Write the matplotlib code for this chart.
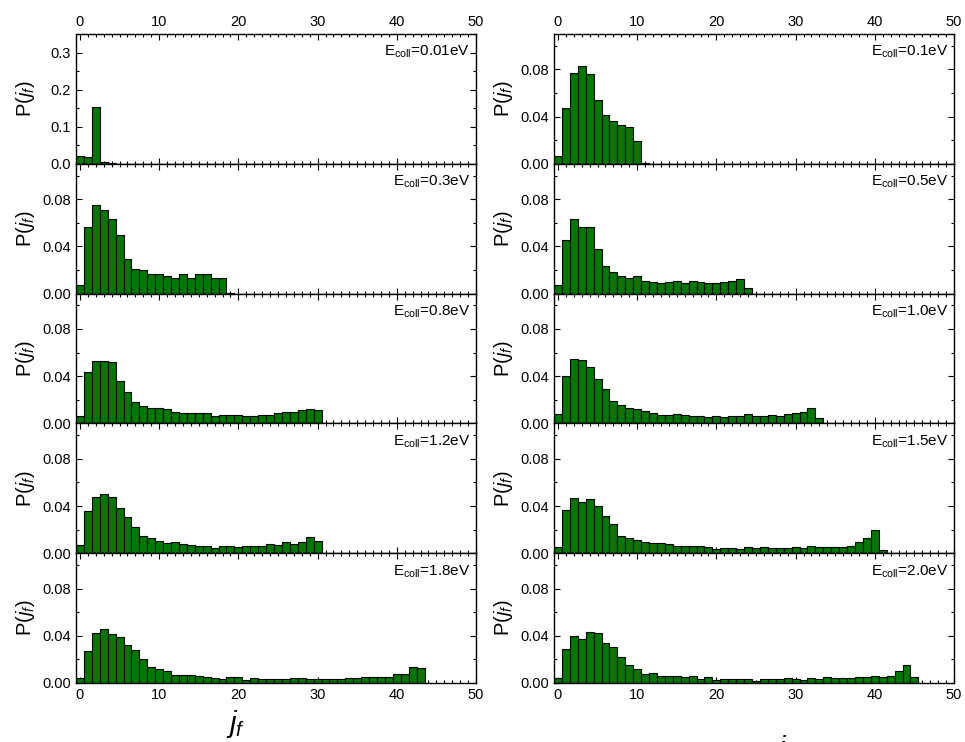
import numpy as np
import matplotlib
matplotlib.use('Agg')
import matplotlib.pyplot as plt
from matplotlib.ticker import MultipleLocator, FormatStrFormatter

plt.rcParams['font.family'] = ['Liberation Sans', 'DejaVu Sans']
plt.rcParams['mathtext.fontset'] = 'custom'
plt.rcParams['mathtext.rm'] = 'Liberation Sans'
plt.rcParams['mathtext.it'] = 'Liberation Sans:italic'

# P(j_f) per collision energy, j_f = 0, 1, 2, ...
p_001 = [0.021, 0.019, 0.152, 0.0055, 0.0012, 0.0008]
p_01 = [0.0065, 0.0477, 0.0766, 0.0831, 0.0763, 0.0542, 0.0411, 0.0363,
        0.0329, 0.0315, 0.0193, 0.0007]
p_03 = [0.0071, 0.0562, 0.0755, 0.0709, 0.0633, 0.0494, 0.0292, 0.0207,
        0.0196, 0.0170, 0.0162, 0.0153, 0.0128, 0.0162, 0.0136, 0.0162,
        0.0167, 0.0130, 0.0136, 0.0005]
p_05 = [0.0071, 0.0454, 0.0633, 0.0567, 0.0567, 0.0374, 0.0238, 0.0182,
        0.0148, 0.0136, 0.0145, 0.0111, 0.0102, 0.0094, 0.0102, 0.0111,
        0.0091, 0.0108, 0.0096, 0.0094, 0.0094, 0.0096, 0.0111, 0.0122,
        0.0048]
p_08 = [0.0065, 0.0434, 0.0531, 0.0531, 0.0519, 0.0357, 0.0270, 0.0179,
        0.0145, 0.0130, 0.0128, 0.0122, 0.0094, 0.0091, 0.0091, 0.0088,
        0.0088, 0.0062, 0.0074, 0.0074, 0.0071, 0.0065, 0.0060, 0.0071,
        0.0071, 0.0085, 0.0096, 0.0099, 0.0113, 0.0122, 0.0113]
p_10 = [0.0079, 0.0400, 0.0548, 0.0539, 0.0479, 0.0377, 0.0295, 0.0190,
        0.0153, 0.0128, 0.0122, 0.0102, 0.0085, 0.0074, 0.0074, 0.0077,
        0.0068, 0.0065, 0.0062, 0.0057, 0.0060, 0.0057, 0.0060, 0.0060,
        0.0077, 0.0065, 0.0065, 0.0068, 0.0060, 0.0079, 0.0085, 0.0096,
        0.0130, 0.0045]
p_12 = [0.0068, 0.0355, 0.0477, 0.0502, 0.0474, 0.0386, 0.0306, 0.0221,
        0.0148, 0.0130, 0.0105, 0.0088, 0.0094, 0.0077, 0.0068, 0.0062,
        0.0060, 0.0043, 0.0057, 0.0062, 0.0054, 0.0062, 0.0060, 0.0060,
        0.0077, 0.0071, 0.0092, 0.0077, 0.0097, 0.0136, 0.0105]
p_15 = [0.0051, 0.0363, 0.0468, 0.0434, 0.0460, 0.0403, 0.0318, 0.0247,
        0.0145, 0.0130, 0.0116, 0.0099, 0.0085, 0.0085, 0.0077, 0.0065,
        0.0065, 0.0057, 0.0057, 0.0054, 0.0037, 0.0045, 0.0045, 0.0037,
        0.0051, 0.0045, 0.0054, 0.0045, 0.0043, 0.0045, 0.0051, 0.0048,
        0.0060, 0.0054, 0.0051, 0.0054, 0.0051, 0.0062, 0.0091, 0.0130,
        0.0193, 0.0025]
p_18 = [0.0043, 0.0270, 0.0420, 0.0454, 0.0417, 0.0394, 0.0326, 0.0278,
        0.0207, 0.0136, 0.0116, 0.0099, 0.0071, 0.0065, 0.0065, 0.0062,
        0.0048, 0.0045, 0.0037, 0.0054, 0.0048, 0.0026, 0.0045, 0.0034,
        0.0034, 0.0037, 0.0037, 0.0043, 0.0045, 0.0031, 0.0037, 0.0037,
        0.0037, 0.0037, 0.0043, 0.0040, 0.0051, 0.0054, 0.0054, 0.0051,
        0.0074, 0.0074, 0.0139, 0.0125]
p_20 = [0.0045, 0.0287, 0.0400, 0.0377, 0.0431, 0.0425, 0.0335, 0.0306,
        0.0218, 0.0156, 0.0116, 0.0074, 0.0088, 0.0062, 0.0062, 0.0057,
        0.0054, 0.0060, 0.0037, 0.0048, 0.0028, 0.0037, 0.0037, 0.0037,
        0.0037, 0.0020, 0.0034, 0.0034, 0.0037, 0.0040, 0.0034, 0.0028,
        0.0045, 0.0034, 0.0051, 0.0040, 0.0040, 0.0040, 0.0048, 0.0048,
        0.0062, 0.0054, 0.0062, 0.0105, 0.0156, 0.0048]

left_labels = ['0.01', '0.3', '0.8', '1.2', '1.8']
right_labels = ['0.1', '0.5', '1.0', '1.5', '2.0']
left_data = [p_001, p_03, p_08, p_12, p_18]
right_data = [p_01, p_05, p_10, p_15, p_20]

W, H = 965, 742
fig = plt.figure(figsize=(W / 100, H / 100), dpi=100)

bar_color = '#007700'
top_px, bot_px = 34, 683
row_h = (bot_px - top_px) / 5

for col, (x0, labels, datas) in enumerate([(76, left_labels, left_data),
                                          (554, right_labels, right_data)]):
    for row in range(5):
        y_top = top_px + row * row_h
        ax = fig.add_axes([x0 / W, 1 - (y_top + row_h) / H, 400 / W, row_h / H])
        p = np.array(datas[row])
        j = np.arange(len(p))
        ax.bar(j, p, width=1.0, color=bar_color, edgecolor='black',
               linewidth=0.8, align='center', zorder=2)
        ax.set_xlim(-0.5, 50)
        ax.xaxis.set_major_locator(MultipleLocator(10))
        ax.xaxis.set_minor_locator(MultipleLocator(1))
        if col == 0 and row == 0:
            ax.set_ylim(0, 0.35)
            ax.yaxis.set_major_locator(MultipleLocator(0.1))
            ax.yaxis.set_minor_locator(MultipleLocator(0.05))
            ax.yaxis.set_major_formatter(FormatStrFormatter('%.1f'))
        else:
            ax.set_ylim(0, 0.11)
            ax.yaxis.set_major_locator(MultipleLocator(0.04))
            ax.yaxis.set_minor_locator(MultipleLocator(0.02))
            ax.yaxis.set_major_formatter(FormatStrFormatter('%.2f'))
        ax.tick_params(which='both', direction='in', top=True, right=True,
                       labelsize=10.5, width=0.8)
        ax.tick_params(which='major', length=4.5)
        ax.tick_params(which='minor', length=2.5)
        ax.tick_params(axis='x', labelbottom=(row == 4), labeltop=(row == 0))
        for s in ax.spines.values():
            s.set_linewidth(1.0)
        ax.set_ylabel('P($j_f$)', fontsize=14.5, labelpad=0)
        ax.yaxis.set_label_coords(-0.098, 0.5)
        ax.text(0.985, 0.86, r'E$_{\rm coll}$=' + labels[row] + 'eV',
                transform=ax.transAxes, ha='right', va='center', fontsize=11)

fig.text(236 / W, 1.5 / H, '$j_f$', fontsize=21, ha='center', va='bottom')
# the right-hand axis title sits mostly below the figure edge, as in the source
fig.text(785 / W, 1 - 733 / H, '$j_f$', fontsize=21, ha='center', va='top')

fig.savefig('out.png', dpi=100)
